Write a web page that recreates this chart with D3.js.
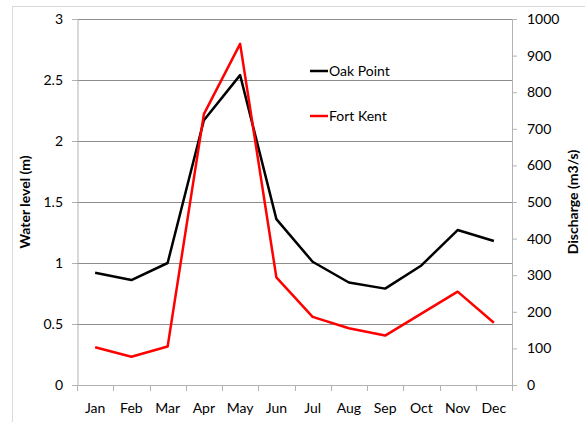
<!DOCTYPE html>
<html>
<head>
<meta charset="utf-8">
<script src="https://cdn.jsdelivr.net/npm/d3@7"></script>
<style>
  body { margin: 0; background: #fff; }
  svg text { font-family: Lato, "Open Sans", sans-serif; fill: #000; }
</style>
</head>
<body>
<div id="chart"></div>
<script>
const months = ["Jan", "Feb", "Mar", "Apr", "May", "Jun", "Jul", "Aug", "Sep", "Oct", "Nov", "Dec"];
// water level at Oak Point (m), left axis
const oakPoint = [0.92, 0.86, 1.0, 2.17, 2.54, 1.36, 1.01, 0.84, 0.79, 0.98, 1.27, 1.18];
// discharge at Fort Kent (m3/s), right axis
const fortKent = [103, 77, 105, 740, 932, 294, 186, 155, 135, 195, 255, 170];
const levelTicks = [0, 0.5, 1, 1.5, 2, 2.5, 3];
const dischargeTicks = [0, 100, 200, 300, 400, 500, 600, 700, 800, 900, 1000];

const W = 585, H = 422;
const margin = { top: 19, right: 73, bottom: 37, left: 77 };
const width = W - margin.left - margin.right;
const height = H - margin.top - margin.bottom;

const svg = d3.select("#chart").append("svg")
    .attr("width", W)
    .attr("height", H);

// outer chart border
svg.append("rect")
    .attr("x", 12.5).attr("y", 6.5)
    .attr("width", 700).attr("height", 500)
    .attr("fill", "none")
    .attr("stroke", "#d9d9d9");

const g = svg.append("g")
    .attr("transform", `translate(${margin.left}, ${margin.top})`);

const x = d3.scaleBand().domain(months).range([0, width]);
const yL = d3.scaleLinear().domain([0, 3]).range([height, 0]);
const yR = d3.scaleLinear().domain([0, 1000]).range([height, 0]);

// gridlines
g.append("g")
    .selectAll("line")
    .data(levelTicks.slice(1))
    .join("line")
    .attr("x1", 0).attr("x2", width)
    .attr("y1", d => Math.round(yL(d)) + 0.5)
    .attr("y2", d => Math.round(yL(d)) + 0.5)
    .attr("stroke", "#8c8c8c");

// left axis
const leftAxis = g.append("g")
    .call(d3.axisLeft(yL).tickValues(levelTicks).tickSize(5).tickPadding(9)
        .tickFormat(d3.format("")));
leftAxis.select(".domain").attr("stroke", "#b3b3b3").attr("transform", "translate(0.5,0)");
leftAxis.selectAll(".tick line").attr("stroke", "#b3b3b3");
leftAxis.selectAll("text").style("font-size", "14px");

// right axis
const rightAxis = g.append("g")
    .attr("transform", `translate(${width}, 0)`)
    .call(d3.axisRight(yR).tickValues(dischargeTicks).tickSize(5).tickPadding(10)
        .tickFormat(d3.format("d")));
rightAxis.select(".domain").attr("stroke", "#b3b3b3");
rightAxis.selectAll(".tick line").attr("stroke", "#b3b3b3");
rightAxis.selectAll("text").style("font-size", "14px");

// bottom axis with ticks between categories
const bottom = g.append("g")
    .attr("transform", `translate(0, ${height})`)
    .call(d3.axisBottom(x).tickSize(0).tickPadding(18));
bottom.select(".domain").attr("stroke", "#b3b3b3");
bottom.selectAll("text").style("font-size", "14px");
bottom.selectAll(".sep")
    .data(d3.range(months.length + 1))
    .join("line")
    .attr("class", "sep")
    .attr("x1", i => Math.round(i * x.step()) + 0.5)
    .attr("x2", i => Math.round(i * x.step()) + 0.5)
    .attr("y1", 0).attr("y2", 6)
    .attr("stroke", "#b3b3b3");

// lines
const cx = d => x(d) + x.bandwidth() / 2;
const lineL = d3.line().x((d, i) => cx(months[i])).y(d => yL(d));
const lineR = d3.line().x((d, i) => cx(months[i])).y(d => yR(d));

g.append("path")
    .datum(oakPoint)
    .attr("d", lineL)
    .attr("fill", "none")
    .attr("stroke", "#000")
    .attr("stroke-width", 2.5)
    .attr("stroke-linejoin", "round");

g.append("path")
    .datum(fortKent)
    .attr("d", lineR)
    .attr("fill", "none")
    .attr("stroke", "#ff0000")
    .attr("stroke-width", 2.5)
    .attr("stroke-linejoin", "round");

// axis titles
svg.append("text")
    .attr("transform", `translate(30, ${margin.top + height / 2}) rotate(-90)`)
    .attr("text-anchor", "middle")
    .style("font-size", "14px")
    .style("font-weight", "bold")
    .text("Water level (m)");

svg.append("text")
    .attr("transform", `translate(578, ${margin.top + height / 2}) rotate(-90)`)
    .attr("text-anchor", "middle")
    .style("font-size", "14px")
    .style("font-weight", "bold")
    .text("Discharge (m3/s)");

// legend
const legend = [
    { name: "Oak Point", color: "#000", y: 71 },
    { name: "Fort Kent", color: "#ff0000", y: 116 }
];
const lg = svg.append("g").selectAll("g").data(legend).join("g");
lg.append("line")
    .attr("x1", 310).attr("x2", 328)
    .attr("y1", d => d.y).attr("y2", d => d.y)
    .attr("stroke", d => d.color)
    .attr("stroke-width", 2.5);
lg.append("text")
    .attr("x", 329)
    .attr("y", d => d.y + 5)
    .style("font-size", "14px")
    .text(d => d.name);
</script>
</body>
</html>
